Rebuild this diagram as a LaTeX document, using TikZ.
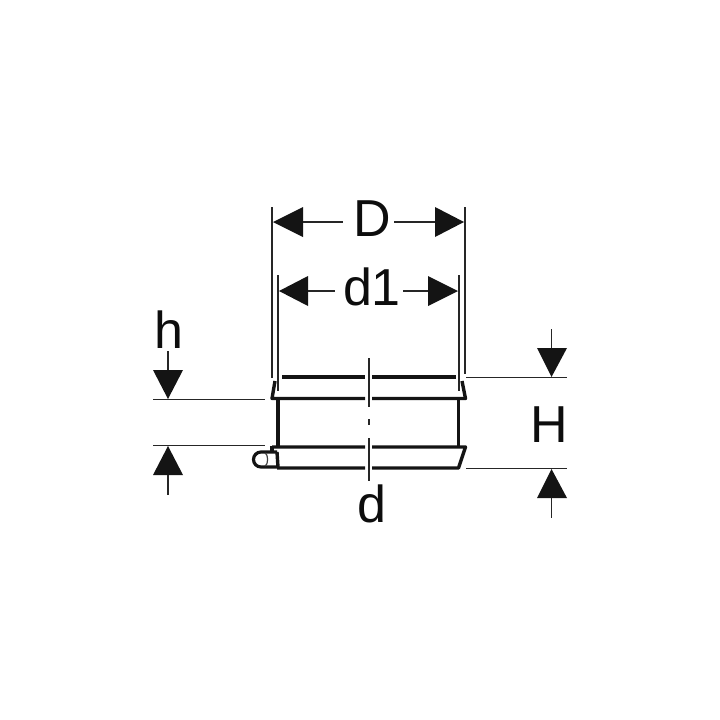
\documentclass[tikz,border=0pt]{standalone}
\usepackage{fontspec}
\setmainfont{Liberation Sans}
\tikzset{
  px/.style={x=1pt,y=-1pt},
  thin line/.style={line width=1.7pt,draw=black!85},
  body line/.style={line width=3.4pt,draw=black!92,line join=round},
  center line/.style={line width=2pt,draw=black!85},
  head/.style={fill=black!92,draw=none},
  dimtext/.style={inner sep=0pt,font=\fontsize{52}{52}\selectfont,text=black!95,anchor=base}
}
\begin{document}
\begin{tikzpicture}[px]
\useasboundingbox (0,0) rectangle (720,720);
\fill[white] (0,0) rectangle (720,720);
% extension lines
\coordinate (Dl0) at (272,207); \coordinate (Dl1) at (272,378);
\coordinate (Dr0) at (465,207); \coordinate (Dr1) at (465,374);
\coordinate (d1l0) at (278,275); \coordinate (d1l1) at (278,391);
\coordinate (d1r0) at (459,275); \coordinate (d1r1) at (459,391);
\draw[thin line] (Dl0)--(Dl1) (Dr0)--(Dr1) (d1l0)--(d1l1) (d1r0)--(d1r1);
% labels
\node[dimtext] (D) at (372,236) {D};
\node[dimtext] (d1) at (372,305) {d1};
\node[dimtext] (h) at (169,348) {h};
\node[dimtext] (H) at (549.5,442) {H};
\node[dimtext] (dd) at (371.5,522) {d};
% D dimension
\fill[head] (273,222) -- (303,207) -- (303,237) -- cycle;
\fill[head] (464,222) -- (435,207) -- (435,237) -- cycle;
\draw[thin line] (303,222) -- (343,222) (394,222) -- (435,222);
% d1 dimension
\fill[head] (279,291) -- (308,276) -- (308,306) -- cycle;
\fill[head] (458,291) -- (428,276) -- (428,306) -- cycle;
\draw[thin line] (308,291) -- (335,291) (403,291) -- (428,291);
% centre line
\draw[center line] (368.5,358) -- (368.5,407) (368.5,419) -- (368.5,425) (368.5,438) -- (368.5,481);
% body
\draw[body line] (282,377) -- (365,377) (372,377) -- (455.5,377);
\draw[body line] (275,381) -- (272,398.5) -- (365,398.5) (372,398.5) -- (465.5,398.5) -- (462,381);
\draw[body line] (278,399) -- (278,446) (458.5,399) -- (458.5,446);
\draw[body line] (272,447) -- (365,447) (372,447) -- (465.5,447) -- (458.5,468) -- (372,468) (365,468) -- (277,468);
\draw[body line] (272,446) -- (272,451);
% nub
\draw[line width=3.2pt,black!92,fill=white] (277,452) -- (261,452) arc[start angle=-90,end angle=-270,radius=7.5] -- (277,467);
\draw[body line] (277,452) -- (278,467);
\draw[line width=1.2pt,black!75] (265,453) arc[start angle=-90,end angle=90,x radius=2.5,y radius=6.5];
% h
\fill[head] (168,399) -- (153,370) -- (183,370) -- cycle;
\draw[thin line] (168,351) -- (168,370);
\draw[thin line] (153,399.5) -- (265,399.5) (153,445.5) -- (265,445.5);
\fill[head] (168,446) -- (153,475) -- (183,475) -- cycle;
\draw[thin line] (168,475) -- (168,495);
% H
\draw[thin line] (551.5,329) -- (551.5,349);
\fill[head] (551.5,377) -- (537,348) -- (567,348) -- cycle;
\draw[thin line] (466,377.5) -- (567,377.5) (466,468.5) -- (567,468.5);
\fill[head] (551.5,469) -- (537,498) -- (567,498) -- cycle;
\draw[thin line] (551.5,498) -- (551.5,518);
\end{tikzpicture}
\end{document}
